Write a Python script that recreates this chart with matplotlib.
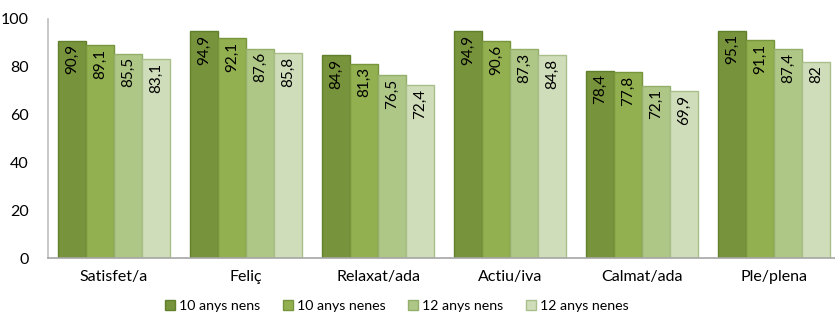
import numpy as np
import matplotlib
matplotlib.use("Agg")
import matplotlib.pyplot as plt

plt.rcParams["font.family"] = ["Lato", "DejaVu Sans"]

categories = ["Satisfet/a", "Feliç", "Relaxat/ada", "Actiu/iva", "Calmat/ada", "Ple/plena"]
series = ["10 anys nens", "10 anys nenes", "12 anys nens", "12 anys nenes"]
nens10 = [90.9, 94.9, 84.9, 94.9, 78.4, 95.1]
nenes10 = [89.1, 92.1, 81.3, 90.6, 77.8, 91.1]
nens12 = [85.5, 87.6, 76.5, 87.3, 72.1, 87.4]
nenes12 = [83.1, 85.8, 72.4, 84.8, 69.9, 82.0]
labels = [
    ["90,9", "94,9", "84,9", "94,9", "78,4", "95,1"],
    ["89,1", "92,1", "81,3", "90,6", "77,8", "91,1"],
    ["85,5", "87,6", "76,5", "87,3", "72,1", "87,4"],
    ["83,1", "85,8", "72,4", "84,8", "69,9", "82"],
]

COLORS = ["#77933C", "#92B050", "#AEC686", "#D0DDBA"]
EDGES = ["#62802C", "#76953C", "#93AF6A", "#A9BF8A"]

fig = plt.figure(figsize=(8.35, 3.15), dpi=100)
ax = fig.add_axes([48 / 835, 57 / 315, 792 / 835, 239 / 315])

x = np.arange(len(categories))
w = 112 / 132 / 4
for k, vals in enumerate([nens10, nenes10, nens12, nenes12]):
    xs = x + (k - 1.5) * w
    ax.bar(xs, vals, w, color=COLORS[k], edgecolor=EDGES[k], lw=1.0, label=series[k])
    for xi, v, t in zip(xs, vals, labels[k]):
        ax.text(xi, v - 1.5, t, rotation=90, ha="center", va="top", fontsize=11, color="black")

ax.set_xlim(-0.5, 5.5)
ax.set_ylim(0, 100)
ax.set_yticks(range(0, 101, 20))
ax.set_xticks(x)
ax.set_xticklabels(categories)
ax.tick_params(axis="both", length=0, labelsize=11.5, colors="black")
ax.tick_params(axis="x", pad=9)
ax.tick_params(axis="y", pad=14)
for s in ["top", "right"]:
    ax.spines[s].set_visible(False)
ax.spines["left"].set_color("#BFBFBF")
ax.spines["bottom"].set_color("#A6A6A6")
ax.spines["left"].set_linewidth(1.2)
ax.spines["bottom"].set_linewidth(1.2)

fig.legend(loc="center", bbox_to_anchor=(397 / 835, 9 / 315), ncol=4, frameon=False,
           fontsize=10.2, handlelength=0.7, handleheight=0.7, handletextpad=0.3,
           columnspacing=1.6)

fig.savefig("out.png", dpi=100)
